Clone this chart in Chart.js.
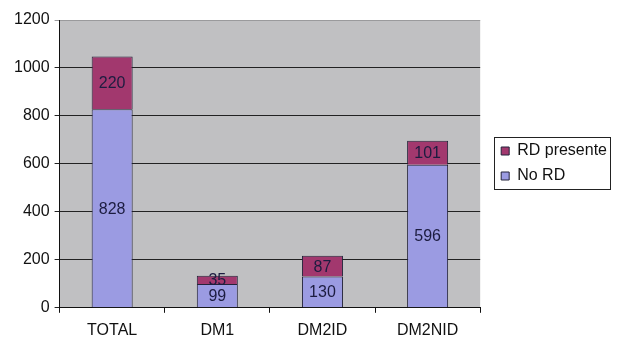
<!DOCTYPE html>
<html>
<head>
<meta charset="utf-8">
<script src="https://cdn.jsdelivr.net/npm/chart.js@4"></script>
<style>
  html, body { margin: 0; padding: 0; background: #fff; }
  #wrap { width: 619px; height: 340px; }
</style>
</head>
<body>
<div id="wrap"><canvas id="rdChart"></canvas></div>
<script>
const categories = ["TOTAL", "DM1", "DM2ID", "DM2NID"];
const noRd = [828, 99, 130, 596];
const rdPresente = [220, 35, 87, 101];

// grey plot area behind the bars
const plotBackground = {
    id: "plotBackground",
    beforeDraw(chart) {
        const { ctx, chartArea: a } = chart;
        ctx.save();
        ctx.fillStyle = "#c0c0c2";
        ctx.fillRect(a.left, a.top, a.right - a.left, a.bottom - a.top);
        ctx.restore();
    }
};

// value written in the middle of each stacked segment
const segmentLabels = {
    id: "segmentLabels",
    afterDatasetsDraw(chart) {
        const ctx = chart.ctx;
        ctx.save();
        ctx.font = "16px 'Liberation Sans', Arial, sans-serif";
        ctx.fillStyle = "#1c1c40";
        ctx.textAlign = "center";
        ctx.textBaseline = "middle";
        chart.data.datasets.forEach((ds, i) => {
            chart.getDatasetMeta(i).data.forEach((bar, j) => {
                ctx.fillText(ds.data[j], bar.x, (bar.y + bar.base) / 2 + 1);
            });
        });
        ctx.restore();
    }
};

// thin frame round the legend items
const legendFrame = {
    id: "legendFrame",
    afterDraw(chart) {
        const boxes = chart.legend.legendHitBoxes;
        if (!boxes || !boxes.length) return;
        const left = Math.min(...boxes.map(b => b.left)) - 7;
        const top = Math.min(...boxes.map(b => b.top)) - 6;
        const right = Math.max(...boxes.map(b => b.left + b.width)) + 3;
        const bottom = Math.max(...boxes.map(b => b.top + b.height)) + 5;
        const ctx = chart.ctx;
        ctx.save();
        ctx.strokeStyle = "#222";
        ctx.lineWidth = 1;
        ctx.strokeRect(Math.round(left) + 0.5, Math.round(top) + 0.5,
            Math.round(right - left), Math.round(bottom - top));
        ctx.restore();
    }
};

const font = "'Liberation Sans', Arial, sans-serif";

new Chart(document.getElementById("rdChart"), {
    type: "bar",
    data: {
        labels: categories,
        datasets: [
            {
                label: "No RD",
                data: noRd,
                backgroundColor: "#9b9be2",
                borderColor: "#23233a",
                borderWidth: 1,
                barPercentage: 0.39,
                categoryPercentage: 1
            },
            {
                label: "RD presente",
                data: rdPresente,
                backgroundColor: "#a2386e",
                borderColor: "#23233a",
                borderWidth: 1,
                barPercentage: 0.39,
                categoryPercentage: 1
            }
        ]
    },
    options: {
        responsive: true,
        maintainAspectRatio: false,
        animation: false,
        layout: { padding: { top: 20, right: 2, left: 9, bottom: -8 } },
        plugins: {
            tooltip: { enabled: false },
            legend: {
                position: "right",
                align: "start",
                reverse: true,
                maxWidth: 140,
                title: {
                    display: true,
                    text: "",
                    padding: { top: 102, bottom: 0 },
                    font: { size: 10 }
                },
                labels: {
                    boxWidth: 8,
                    boxHeight: 8,
                    padding: 9,
                    color: "#111",
                    font: { family: font, size: 16 }
                }
            }
        },
        scales: {
            x: {
                stacked: true,
                grid: {
                    drawOnChartArea: false,
                    drawTicks: true,
                    tickLength: 5,
                    color: "#111"
                },
                border: { color: "#111", width: 1 },
                ticks: {
                    color: "#111",
                    padding: 8,
                    font: { family: font, size: 16 }
                }
            },
            y: {
                stacked: true,
                min: 0,
                max: 1200,
                ticks: {
                    stepSize: 200,
                    color: "#111",
                    padding: 5,
                    font: { family: font, size: 16 },
                    callback: v => String(v)
                },
                grid: {
                    color: ctx => ctx.tick && ctx.tick.value === 1200 ? "#9a9a9c" : "#222",
                    tickLength: 5
                },
                border: { color: "#111", width: 1 }
            },
            // empty axis that only keeps a gap between the plot and the legend
            gap: {
                type: "linear",
                position: "right",
                grid: { display: false },
                ticks: { display: false },
                border: { display: false },
                afterFit: s => { s.width = 12; }
            }
        }
    },
    plugins: [plotBackground, segmentLabels, legendFrame]
});
</script>
</body>
</html>
